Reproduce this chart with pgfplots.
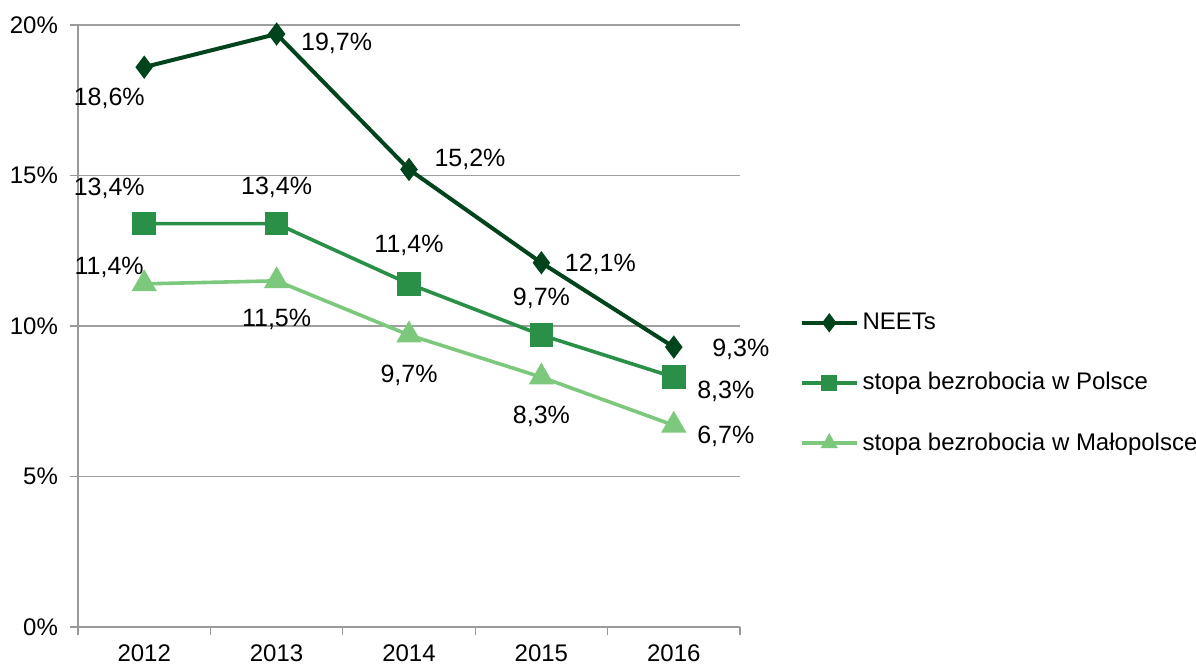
\documentclass[border=0pt]{standalone}
\usepackage{pgfplots}
\pgfplotsset{compat=1.18}
\usepackage{fontspec}
\setmainfont{Liberation Sans}
\definecolor{neet}{HTML}{00441B}
\definecolor{pol}{HTML}{2A9048}
\definecolor{mal}{HTML}{7CC87C}
\begin{document}
\begin{tikzpicture}
\begin{axis}[
  scale only axis,
  width=331pt, height=301pt,
  xmin=-0.5, xmax=4.5,
  ymin=0, ymax=20,
  xtick={0,1,2,3,4},
  xticklabels={2012,2013,2014,2015,2016},
  minor xtick={-0.5,0.5,1.5,2.5,3.5,4.5},
  ytick={0,5,10,15,20},
  yticklabel={\pgfmathprintnumber{\tick}\%},
  /pgf/number format/assume math mode=true,
  tick label style={font=\fontsize{12}{14}\selectfont},
  xticklabel style={yshift=-1.5pt},
  yticklabel style={xshift=-2.5pt},
  axis x line*=bottom, axis y line*=left,
  axis line style={gray!80, line width=0.6pt},
  tick align=outside,
  major tick length=4pt, minor tick length=4pt,
  x tick style={draw=none},
  minor x tick style={draw=gray!80, line width=0.6pt},
  y tick style={gray!80, line width=0.6pt},
  ymajorgrids,
  major grid style={gray!75, line width=0.6pt},
  clip=false,
  nodes near coords={\pgfplotspointmeta\%},
  point meta=explicit symbolic,
  visualization depends on={\thisrow{dx} \as \dx},
  visualization depends on={\thisrow{dy} \as \dy},
  every node near coord/.append style={font=\fontsize{12.5}{14}\selectfont, text=black, anchor=center, xshift=\dx pt, yshift=\dy pt},
  legend style={at={(rel axis cs:1.09,0.405)}, anchor=west, draw=none, fill=none,
    font=\fontsize{12}{14}\selectfont, row sep=16pt, inner sep=0pt},
  legend cell align={left},
  legend image code/.code={\draw[mark repeat=2,mark phase=2,mark size=3.2pt] plot coordinates {(0cm,0cm)(0.48cm,0cm)(0.96cm,0cm)};},
]
\addplot[neet, line width=2pt, mark=diamond*, mark size=4.2pt, mark options={solid}]
  table[meta=lbl] {
x y lbl dx dy
0 18.6 18,6 -17.5 -15.5
1 19.7 19,7 30 -4.5
2 15.2 15,2 30.5 5
3 12.1 12,1 29.5 -1
4 9.3 9,3 33.5 -1
};
\addlegendentry{NEETs}
\addplot[pol, line width=1.8pt, mark=square*, mark size=5pt, mark options={solid}]
  table[meta=lbl] {
x y lbl dx dy
0 13.4 13,4 -17.5 17.5
1 13.4 13,4 0 18
2 11.4 11,4 0 19
3 9.7 9,7 0 18.5
4 8.3 8,3 26 -7
};
\addlegendentry{stopa bezrobocia w Polsce}
\addplot[mal, line width=1.8pt, mark=triangle*, mark size=5.5pt, mark options={solid}]
  table[meta=lbl] {
x y lbl dx dy
0 11.4 11,4 -17.5 8
1 11.5 11,5 0 -19.5
2 9.7 9,7 0 -20
3 8.3 8,3 0 -19.5
4 6.7 6,7 26 -5.5
};
\addlegendentry{stopa bezrobocia w Małopolsce}
\end{axis}
\pgfresetboundingbox
\path (current axis.south west) ++(-39pt,-18.5pt) rectangle ++(598pt,332pt);
\end{tikzpicture}
\end{document}
